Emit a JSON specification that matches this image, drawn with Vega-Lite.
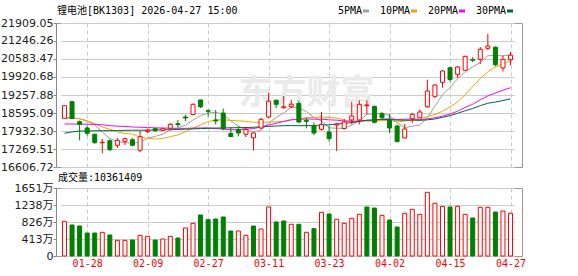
{
  "$schema": "https://vega.github.io/schema/vega-lite/v6.json",
  "autosize": {"type": "pad"},
  "padding": {"left": 0, "top": 5, "right": 2, "bottom": 0},
  "bounds": "flush",
  "spacing": 21,
  "datasets": {
    "k": [
      {"d":"01-23","o":18400,"h":18880,"l":18390,"c":18864,"v":8420000,"vu":1,"5PMA":18430,"10PMA":18400,"20PMA":18190,"30PMA":17850},
      {"d":"01-26","o":19011,"h":19020,"l":18380,"c":18390,"v":7530000,"vu":0,"5PMA":18420,"10PMA":18400,"20PMA":18190,"30PMA":17900},
      {"d":"01-27","o":18275,"h":18319,"l":17590,"c":18179,"v":7280000,"vu":0,"5PMA":18380,"10PMA":18390,"20PMA":18185,"30PMA":17930},
      {"d":"01-28","o":18043,"h":18128,"l":17759,"c":17848,"v":5580000,"vu":0,"5PMA":18290,"10PMA":18310,"20PMA":18180,"30PMA":17935},
      {"d":"01-29","o":17811,"h":17833,"l":17465,"c":17502,"v":5580000,"vu":0,"5PMA":18157,"10PMA":18200,"20PMA":18175,"30PMA":17940},
      {"d":"01-30","o":17500,"h":17638,"l":17112,"c":17520,"v":5750000,"vu":1,"5PMA":17888,"10PMA":18080,"20PMA":18160,"30PMA":17945},
      {"d":"02-02","o":17575,"h":17627,"l":17196,"c":17244,"v":5100000,"vu":0,"5PMA":17659,"10PMA":18000,"20PMA":18130,"30PMA":17945},
      {"d":"02-03","o":17406,"h":17664,"l":17307,"c":17590,"v":3800000,"vu":1,"5PMA":17541,"10PMA":17900,"20PMA":18110,"30PMA":17950},
      {"d":"02-04","o":17553,"h":17686,"l":17417,"c":17649,"v":3800000,"vu":1,"5PMA":17501,"10PMA":17840,"20PMA":18100,"30PMA":17955},
      {"d":"02-05","o":17612,"h":17664,"l":17369,"c":17406,"v":3880000,"vu":0,"5PMA":17482,"10PMA":17819,"20PMA":18080,"30PMA":17960},
      {"d":"02-06","o":17222,"h":17932,"l":17159,"c":17723,"v":5020000,"vu":1,"5PMA":17522,"10PMA":17705,"20PMA":18070,"30PMA":17960},
      {"d":"02-09","o":17910,"h":18022,"l":17860,"c":17960,"v":4770000,"vu":1,"5PMA":17666,"10PMA":17662,"20PMA":18060,"30PMA":17965},
      {"d":"02-10","o":18017,"h":18043,"l":17896,"c":17945,"v":3880000,"vu":0,"5PMA":17737,"10PMA":17639,"20PMA":18050,"30PMA":17970},
      {"d":"02-11","o":17958,"h":18061,"l":17932,"c":18017,"v":4130000,"vu":1,"5PMA":17810,"10PMA":17656,"20PMA":18040,"30PMA":17975},
      {"d":"02-12","o":18032,"h":18227,"l":17995,"c":18179,"v":4770000,"vu":1,"5PMA":17965,"10PMA":17723,"20PMA":18035,"30PMA":17980},
      {"d":"02-13","o":18201,"h":18337,"l":18080,"c":18164,"v":4370000,"vu":0,"5PMA":18053,"10PMA":17788,"20PMA":18030,"30PMA":17990},
      {"d":"02-24","o":18448,"h":18533,"l":18301,"c":18411,"v":6800000,"vu":1,"5PMA":18143,"10PMA":17904,"20PMA":18030,"30PMA":18000},
      {"d":"02-25","o":18540,"h":18945,"l":18522,"c":18916,"v":7930000,"vu":1,"5PMA":18337,"10PMA":18037,"20PMA":18040,"30PMA":18010},
      {"d":"02-26","o":19074,"h":19090,"l":18779,"c":18823,"v":9950000,"vu":0,"5PMA":18499,"10PMA":18154,"20PMA":18045,"30PMA":18020},
      {"d":"02-27","o":18680,"h":18724,"l":18466,"c":18658,"v":8820000,"vu":0,"5PMA":18594,"10PMA":18280,"20PMA":18049,"30PMA":18030},
      {"d":"03-02","o":18338,"h":18706,"l":18172,"c":18301,"v":8980000,"vu":0,"5PMA":18622,"10PMA":18337,"20PMA":18021,"30PMA":18040},
      {"d":"03-03","o":18595,"h":18754,"l":17958,"c":18017,"v":9470000,"vu":0,"5PMA":18543,"10PMA":18343,"20PMA":18003,"30PMA":18045},
      {"d":"03-04","o":17840,"h":18080,"l":17700,"c":17730,"v":6070000,"vu":0,"5PMA":18306,"10PMA":18322,"20PMA":17980,"30PMA":18050},
      {"d":"03-05","o":17988,"h":18106,"l":17737,"c":17859,"v":6070000,"vu":1,"5PMA":18113,"10PMA":18306,"20PMA":17981,"30PMA":18055},
      {"d":"03-06","o":17811,"h":18091,"l":17711,"c":17988,"v":5020000,"vu":1,"5PMA":17979,"10PMA":18287,"20PMA":18005,"30PMA":18060},
      {"d":"03-09","o":17682,"h":17877,"l":17215,"c":17859,"v":7280000,"vu":0,"5PMA":17891,"10PMA":18256,"20PMA":18022,"30PMA":18070},
      {"d":"03-10","o":18043,"h":18411,"l":17995,"c":18363,"v":6560000,"vu":1,"5PMA":17960,"10PMA":18251,"20PMA":18078,"30PMA":18085},
      {"d":"03-11","o":18448,"h":19343,"l":18393,"c":19030,"v":11900000,"vu":1,"5PMA":18220,"10PMA":18263,"20PMA":18150,"30PMA":18100},
      {"d":"03-12","o":19067,"h":19080,"l":18768,"c":18916,"v":8260000,"vu":0,"5PMA":18431,"10PMA":18272,"20PMA":18213,"30PMA":18115},
      {"d":"03-13","o":18790,"h":19221,"l":18761,"c":18823,"v":8500000,"vu":0,"5PMA":18598,"10PMA":18289,"20PMA":18284,"30PMA":18129},
      {"d":"03-16","o":18827,"h":19074,"l":18768,"c":18919,"v":7690000,"vu":1,"5PMA":18810,"10PMA":18350,"20PMA":18344,"30PMA":18131},
      {"d":"03-17","o":18945,"h":19048,"l":18227,"c":18264,"v":7690000,"vu":0,"5PMA":18790,"10PMA":18375,"20PMA":18359,"30PMA":18127},
      {"d":"03-18","o":18326,"h":18422,"l":18032,"c":18290,"v":5750000,"vu":1,"5PMA":18642,"10PMA":18431,"20PMA":18376,"30PMA":18130},
      {"d":"03-19","o":18117,"h":18245,"l":17778,"c":17859,"v":6640000,"vu":0,"5PMA":18431,"10PMA":18431,"20PMA":18368,"30PMA":18131},
      {"d":"03-20","o":17995,"h":18632,"l":17951,"c":18172,"v":10600000,"vu":1,"5PMA":18301,"10PMA":18450,"20PMA":18368,"30PMA":18153},
      {"d":"03-23","o":17896,"h":18117,"l":17539,"c":17656,"v":10200000,"vu":0,"5PMA":18048,"10PMA":18429,"20PMA":18343,"30PMA":18158},
      {"d":"03-24","o":18150,"h":18230,"l":17196,"c":18190,"v":8900000,"vu":1,"5PMA":18033,"10PMA":18412,"20PMA":18332,"30PMA":18189},
      {"d":"03-25","o":18025,"h":18375,"l":17995,"c":18264,"v":7930000,"vu":1,"5PMA":18028,"10PMA":18335,"20PMA":18299,"30PMA":18212},
      {"d":"03-26","o":18338,"h":19011,"l":18179,"c":18485,"v":9150000,"vu":1,"5PMA":18153,"10PMA":18292,"20PMA":18282,"30PMA":18240},
      {"d":"03-27","o":18338,"h":19063,"l":18179,"c":18916,"v":10120000,"vu":1,"5PMA":18302,"10PMA":18302,"20PMA":18295,"30PMA":18290},
      {"d":"03-30","o":18864,"h":19063,"l":18547,"c":18890,"v":11900000,"vu":0,"5PMA":18549,"10PMA":18299,"20PMA":18325,"30PMA":18329},
      {"d":"03-31","o":18835,"h":18871,"l":18209,"c":18253,"v":11650000,"vu":0,"5PMA":18562,"10PMA":18298,"20PMA":18336,"30PMA":18339},
      {"d":"04-01","o":18569,"h":18621,"l":18393,"c":18422,"v":9870000,"vu":1,"5PMA":18593,"10PMA":18311,"20PMA":18371,"30PMA":18354},
      {"d":"04-02","o":18319,"h":18558,"l":17859,"c":18043,"v":8740000,"vu":0,"5PMA":18505,"10PMA":18329,"20PMA":18380,"30PMA":18355},
      {"d":"04-03","o":18117,"h":18153,"l":17527,"c":17539,"v":7040000,"vu":0,"5PMA":18229,"10PMA":18266,"20PMA":18358,"30PMA":18334},
      {"d":"04-07","o":17675,"h":18190,"l":17664,"c":18006,"v":10360000,"vu":1,"5PMA":18053,"10PMA":18301,"20PMA":18365,"30PMA":18329},
      {"d":"04-08","o":18385,"h":18595,"l":18227,"c":18547,"v":11330000,"vu":1,"5PMA":18111,"10PMA":18337,"20PMA":18374,"30PMA":18333},
      {"d":"04-09","o":18422,"h":18724,"l":18411,"c":18632,"v":10120000,"vu":1,"5PMA":18153,"10PMA":18373,"20PMA":18354,"30PMA":18324},
      {"d":"04-10","o":18823,"h":19821,"l":18790,"c":19405,"v":15460000,"vu":1,"5PMA":18426,"10PMA":18465,"20PMA":18379,"30PMA":18343},
      {"d":"04-13","o":19210,"h":19652,"l":19137,"c":19626,"v":12790000,"vu":1,"5PMA":18843,"10PMA":18536,"20PMA":18419,"30PMA":18375},
      {"d":"04-14","o":19726,"h":20179,"l":19527,"c":20142,"v":12060000,"vu":1,"5PMA":19270,"10PMA":18662,"20PMA":18480,"30PMA":18437},
      {"d":"04-15","o":20263,"h":20289,"l":19748,"c":19829,"v":11900000,"vu":0,"5PMA":19527,"10PMA":18819,"20PMA":18558,"30PMA":18497},
      {"d":"04-16","o":20020,"h":20326,"l":19884,"c":20289,"v":12060000,"vu":1,"5PMA":19858,"10PMA":19006,"20PMA":18658,"30PMA":18583},
      {"d":"04-17","o":20167,"h":20700,"l":20150,"c":20683,"v":10120000,"vu":1,"5PMA":20114,"10PMA":19270,"20PMA":18799,"30PMA":18677},
      {"d":"04-20","o":20558,"h":20657,"l":20473,"c":20536,"v":9230000,"vu":0,"5PMA":20296,"10PMA":19570,"20PMA":18918,"30PMA":18762},
      {"d":"04-21","o":20572,"h":21025,"l":20399,"c":20941,"v":11820000,"vu":1,"5PMA":20456,"10PMA":19863,"20PMA":19082,"30PMA":18864},
      {"d":"04-22","o":20977,"h":21511,"l":20915,"c":21062,"v":11820000,"vu":1,"5PMA":20702,"10PMA":20115,"20PMA":19226,"30PMA":18954},
      {"d":"04-23","o":21018,"h":21044,"l":20315,"c":20370,"v":10680000,"vu":0,"5PMA":20718,"10PMA":20288,"20PMA":19331,"30PMA":18999},
      {"d":"04-24","o":20252,"h":20712,"l":20123,"c":20572,"v":10920000,"vu":1,"5PMA":20696,"10PMA":20405,"20PMA":19435,"30PMA":19054},
      {"d":"04-27","o":20558,"h":20841,"l":20352,"c":20723,"v":10361409,"vu":1,"5PMA":20734,"10PMA":20515,"20PMA":19526,"30PMA":19118}
    ],
    "wm": [{"d":"03-18","p":19300,"t":"东方财富"}]
  },
  "vconcat": [
    {
      "width": 466,
      "height": 144,
      "title": {"text": "锂电池[BK1303] 2026-04-27 15:00", "anchor": "start", "frame": "group", "font": "DejaVu Sans Mono, Noto Sans CJK SC", "fontSize": 10, "fontWeight": "normal", "color": "#000000", "offset": 1, "dx": 1},
      "encoding": {
        "x": {"field": "d", "type": "ordinal", "scale": {"type": "point", "range": [4.7, 458.3]},
          "axis": {"values": ["01-28","02-09","02-27","03-11","03-23","04-02","04-15","04-27"], "labels": false, "ticks": false, "domain": false, "grid": true, "gridDash": [4,3], "gridColor": "#cccccc", "title": null}}
      },
      "layer": [
        {
          "data": {"name": "wm"},
          "mark": {"type": "text", "font": "Noto Sans CJK SC", "fontSize": 34, "fontWeight": "bold", "color": "#eaeaea", "baseline": "middle", "align": "center"},
          "encoding": {
            "y": {"field": "p", "type": "quantitative", "scale": {"domain": [16606.72, 21909.05], "nice": false, "zero": false},
              "axis": {"values": [16606.72,17269.51,17932.30,18595.09,19257.88,19920.68,20583.47,21246.26,21909.05], "tickCount": 20, "format": ".2f", "title": null, "grid": true, "gridColor": "#cccccc", "labelOverlap": false}},
            "text": {"field": "t"}
          }
        },
        {
          "data": {"name": "k"},
          "transform": [{"fold": ["5PMA","10PMA","20PMA","30PMA"], "as": ["ma","mv"]}],
          "mark": {"type": "line", "strokeWidth": 1},
          "encoding": {
            "y": {"field": "mv", "type": "quantitative"},
            "color": {"field": "ma", "type": "nominal",
              "scale": {"domain": ["5PMA","10PMA","20PMA","30PMA"], "range": ["#a0a0a0","#f5a300","#ff00ff","#00663a"]},
              "legend": {"orient": "none", "legendX": 305, "legendY": -17, "direction": "horizontal", "title": null,
                "symbolType": "stroke", "symbolSize": 36, "symbolStrokeWidth": 3,
                "labelFont": "DejaVu Sans Mono", "labelFontSize": 10, "labelColor": "#000000",
                "labelAlign": "right", "labelOffset": -9, "columnPadding": 4}}
          }
        },
        {
          "data": {"name": "k"},
          "mark": {"type": "rule", "strokeWidth": 1},
          "encoding": {
            "y": {"field": "l", "type": "quantitative"},
            "y2": {"field": "h"},
            "color": {"condition": {"test": "datum.c >= datum.o", "value": "#ff0000"}, "value": "#008000"}
          }
        },
        {
          "data": {"name": "k"},
          "mark": {"type": "bar", "width": 4, "strokeWidth": 1},
          "encoding": {
            "y": {"field": "o", "type": "quantitative"},
            "y2": {"field": "c"},
            "fill": {"condition": {"test": "datum.c >= datum.o", "value": "#ffffff"}, "value": "#008000"},
            "stroke": {"condition": {"test": "datum.c >= datum.o", "value": "#ff0000"}, "value": "#008000"}
          }
        }
      ]
    },
    {
      "width": 466,
      "height": 68,
      "title": {"text": "成交量:10361409", "anchor": "start", "frame": "group", "font": "DejaVu Sans Mono, Noto Sans CJK SC", "fontSize": 10, "fontWeight": "normal", "color": "#000000", "offset": -1, "dx": 2},
      "data": {"name": "k"},
      "mark": {"type": "bar", "width": 4, "strokeWidth": 1},
      "encoding": {
        "x": {"field": "d", "type": "ordinal", "scale": {"type": "point", "range": [4.7, 458.3]},
          "axis": {"values": ["01-28","02-09","02-27","03-11","03-23","04-02","04-15","04-27"], "labels": true, "labelColor": "#ff0000", "labelFont": "DejaVu Sans Mono", "labelFontSize": 10, "labelPadding": 2, "labelAngle": 0, "ticks": false, "domain": false, "grid": true, "gridDash": [4,3], "gridColor": "#cccccc", "title": null}},
        "y": {"field": "v", "type": "quantitative", "scale": {"domain": [0, 16510000], "nice": false},
          "axis": {"values": [0, 4127500, 8255000, 12382500, 16510000], "tickCount": 10, "labelExpr": "datum.value == 0 ? '0' : round(datum.value / 10000) + '万'", "title": null, "grid": true, "gridColor": "#cccccc"}},
        "fill": {"condition": {"test": "datum.vu == 1", "value": "#ffffff"}, "value": "#008000"},
        "stroke": {"condition": {"test": "datum.vu == 1", "value": "#ff0000"}, "value": "#008000"}
      }
    }
  ],
  "config": {
    "view": {"stroke": "#999999"},
    "axis": {"labelFont": "DejaVu Sans, Noto Sans CJK SC", "labelFontSize": 11, "labelColor": "#222222", "tickColor": "#888888", "domainColor": "#888888", "labelOverlap": false},
    "axisY": {"tickSize": 3, "labelPadding": 0, "labelOverlap": false}
  }
}
